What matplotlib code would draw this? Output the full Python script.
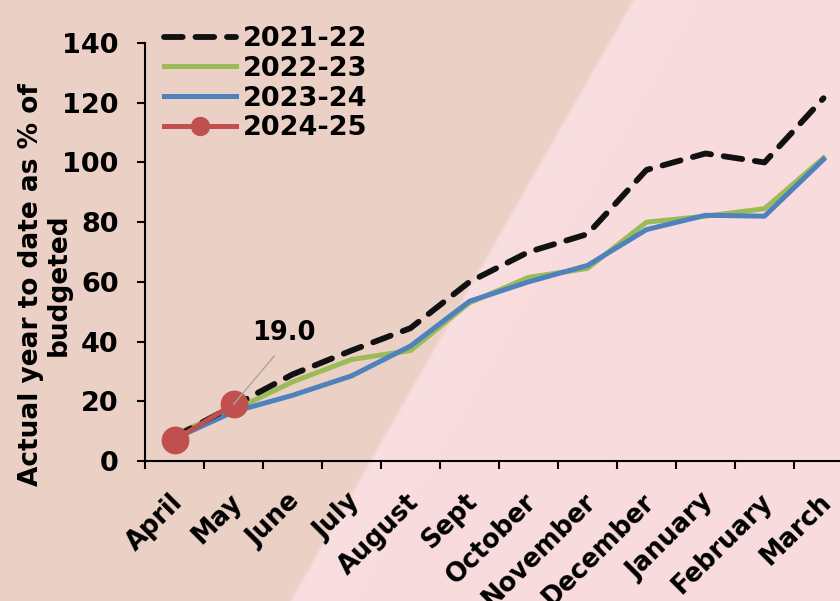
import numpy as np
import matplotlib.pyplot as plt
import matplotlib.transforms as mtransforms

# ── Data ────────────────────────────────────────────────────────────────────
months = ["April", "May", "June", "July", "August", "Sept", "October",
          "November", "December", "January", "February", "March"]
fy_2021_22 = [8, 18.5, 29, 37, 44.5, 60, 70, 76, 97.5, 103, 100, 121.5]
fy_2022_23 = [9, 17, 26.5, 34, 37, 53, 61.5, 64.5, 80, 82, 84.5, 101.5]
fy_2023_24 = [7.5, 16.5, 22, 28.5, 38.5, 53.5, 60, 65.5, 77.5, 82.3, 82, 101]
fy_2024_25 = [7.0, 19.0]
y_ticks = [0, 20, 40, 60, 80, 100, 120, 140]

W, H = 840, 601
plt.rcParams["font.family"] = "DejaVu Sans"
plt.rcParams["font.weight"] = "bold"

fig = plt.figure(figsize=(W / 100, H / 100), dpi=100)

# ── Two-tone diagonal background ────────────────────────────────────────────
tan = np.array([235, 208, 198]) / 255
pink = np.array([248, 219, 221]) / 255
yy, xx = np.mgrid[0:H, 0:W]
x_edge = 633 - (343 / 601) * yy
d = (xx - x_edge) * 0.868
t = np.clip((d + 3) / 6, 0, 1)[..., None]
bg = tan * (1 - t) + pink * t
glow = np.exp(-np.clip(d, 0, None) / 40)[..., None] * (d > 0)[..., None]
bg = bg + (1 - bg) * 0.12 * glow
ax_bg = fig.add_axes([0, 0, 1, 1])
ax_bg.imshow(bg, aspect="auto", interpolation="bilinear")
ax_bg.axis("off")

# ── Chart axes ──────────────────────────────────────────────────────────────
ax = fig.add_axes([145 / W, (H - 461) / H, 708 / W, 418 / H])
ax.set_facecolor("none")

x = np.arange(len(months))
ax.plot(x, fy_2022_23, color="#9BBB59", lw=3.6, label="2022-23", zorder=3)
ax.plot(x, fy_2023_24, color="#4F81BD", lw=3.6, label="2023-24", zorder=4)
ax.plot(x, fy_2021_22, color="#111111", lw=4.2, dashes=(3.2, 2.2),
        dash_capstyle="round", label="2021-22", zorder=5)
ax.plot(x[:len(fy_2024_25)], fy_2024_25, color="#C0504D", lw=3.6,
        marker="o", markersize=19, label="2024-25", zorder=6)

ax.annotate(f"{fy_2024_25[-1]:.1f}", xy=(1, fy_2024_25[-1]),
            xytext=(36.5, 51.5), textcoords="offset points",
            ha="center", va="center", fontsize=18.5, fontweight="bold",
            arrowprops=dict(arrowstyle="-", color="#A6A6A6", lw=1,
                            relpos=(0.48, 0), shrinkA=7, shrinkB=0),
            zorder=7)

ax.set_xlim(-0.5, 11.5)
ax.set_ylim(0, 140)
ax.set_yticks(y_ticks)
ax.set_xticks(x)
ax.set_xticklabels(months)
ax.set_xticks(np.arange(-0.5, 12, 1), minor=True)

for side in ("top", "right"):
    ax.spines[side].set_visible(False)
for side in ("left", "bottom"):
    ax.spines[side].set_linewidth(1.5)

ax.tick_params(axis="y", length=6, width=1.5, labelsize=19.5, pad=13)
ax.tick_params(axis="x", which="major", length=0, labelsize=18.5, pad=20)
ax.tick_params(axis="x", which="minor", length=6, width=1.5)

shift = mtransforms.ScaledTranslation(-5 / 100, 0, fig.dpi_scale_trans)
for lab in ax.get_xticklabels():
    lab.set_rotation(45)
    lab.set_ha("right")
    lab.set_va("top")
    lab.set_rotation_mode("anchor")
    lab.set_transform(lab.get_transform() + shift)
    lab.set_fontweight("bold")

fig.text(45 / W, 1 - 285 / H, "Actual year to date as % of\nbudgeted",
         rotation=90, ha="center", va="center", multialignment="center",
         fontsize=19, fontweight="bold", linespacing=1.12)

handles, labels = ax.get_legend_handles_labels()
order = [2, 0, 1, 3]
ax.legend([handles[i] for i in order], [labels[i] for i in order],
          loc="upper left", bbox_to_anchor=(164 / W, 1 - 26 / H),
          bbox_transform=fig.transFigure, frameon=False,
          prop=dict(size=19.5, weight="bold"), borderpad=0, borderaxespad=0,
          handlelength=2.65, handletextpad=0.26, labelspacing=0.14,
          markerscale=0.68, numpoints=1)

fig.savefig("out.png", dpi=100)
